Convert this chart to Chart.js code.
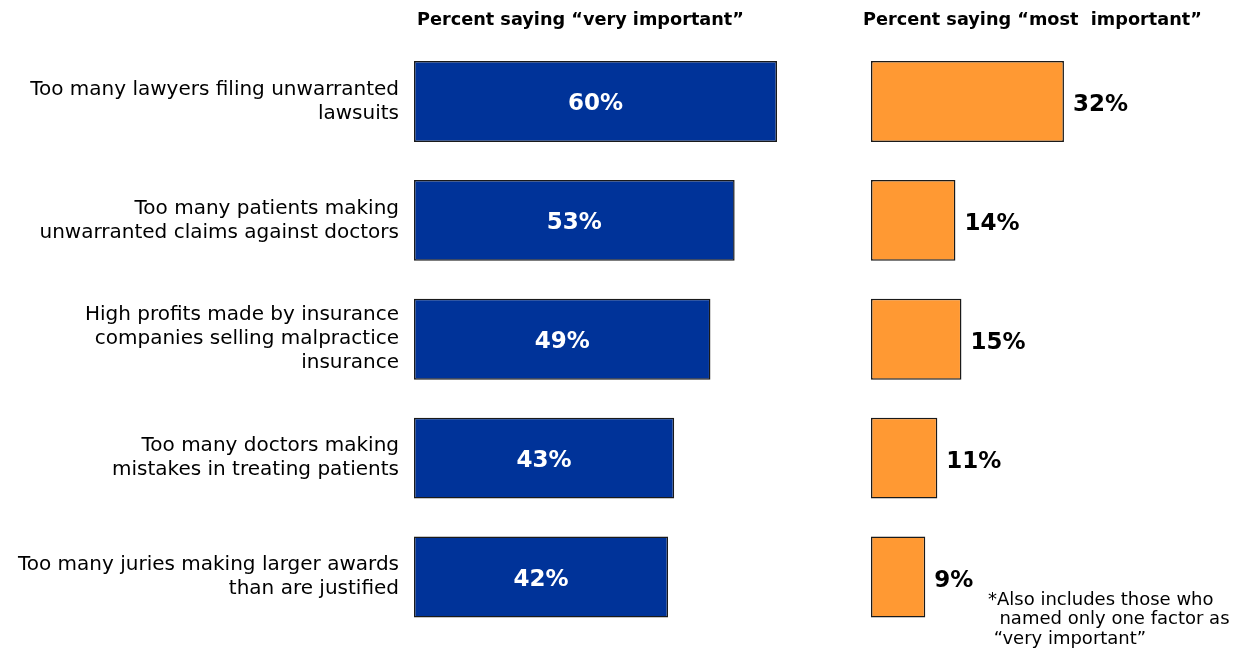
<!DOCTYPE html>
<html>
<head>
<meta charset="utf-8">
<script src="https://cdn.jsdelivr.net/npm/chart.js@4.4.1/dist/chart.umd.min.js"></script>
<style>
    body { margin: 0; background: #fff; }
    #wrap { position: relative; width: 1240px; height: 651px; }
    #veryBox { position: absolute; left: 0; top: 0; width: 840px; height: 651px; }
    #mostBox { position: absolute; left: 840px; top: 0; width: 400px; height: 651px; }
</style>
</head>
<body>
<div id="wrap">
    <div id="veryBox"><canvas id="veryChart"></canvas></div>
    <div id="mostBox"><canvas id="mostChart"></canvas></div>
</div>
<script>
const factors = [
    ["Too many lawyers filing unwarranted", "lawsuits"],
    ["Too many patients making", "unwarranted claims against doctors"],
    ["High profits made by insurance", "companies selling malpractice", "insurance"],
    ["Too many doctors making", "mistakes in treating patients"],
    ["Too many juries making larger awards", "than are justified"]
];
const veryImportant = [60, 53, 49, 43, 42];
const mostImportant = [32, 14, 15, 11, 9];

const veryTitle = "Percent saying \u201cvery important\u201d";
const mostTitle = "Percent saying \u201cmost  important\u201d";
const footnote = ["*Also includes those who", "  named only one factor as", " \u201cvery important\u201d"];

const FONT = "'DejaVu Sans', Verdana, sans-serif";
Chart.defaults.font.family = FONT;
Chart.defaults.color = '#000';

// header text above each panel, plus the bar value labels
function panelText(title, inside, extra) {
    return {
        id: 'panelText',
        afterDatasetsDraw(chart) {
            const ctx = chart.ctx;
            ctx.save();
            ctx.font = 'bold 17.7px ' + FONT;
            ctx.fillStyle = '#000';
            ctx.textAlign = 'left';
            ctx.textBaseline = 'middle';
            ctx.fillText(title.text, title.x, 20);

            ctx.font = 'bold 23px ' + FONT;
            chart.getDatasetMeta(0).data.forEach(function(bar, i) {
                const label = chart.data.datasets[0].data[i] + '%';
                if (inside) {
                    ctx.fillStyle = '#fff';
                    ctx.textAlign = 'center';
                    ctx.fillText(label, (bar.x + bar.base) / 2, bar.y + 3);
                } else {
                    ctx.fillStyle = '#000';
                    ctx.textAlign = 'left';
                    ctx.fillText(label, bar.x + 9, bar.y + 4);
                }
            });
            if (extra) extra(ctx);
            ctx.restore();
        }
    };
}

new Chart(document.getElementById('veryChart'), {
    type: 'bar',
    data: {
        labels: factors,
        datasets: [{
            data: veryImportant,
            backgroundColor: '#003399',
            borderColor: '#1a1a1a',
            borderWidth: 1.5,
            borderSkipped: false,
            barPercentage: 0.68,
            categoryPercentage: 1
        }]
    },
    options: {
        indexAxis: 'y',
        responsive: true,
        maintainAspectRatio: false,
        animation: false,
        layout: { padding: { top: 42, bottom: 14.5, left: 0, right: 2.5 } },
        plugins: { legend: { display: false }, tooltip: { enabled: false } },
        scales: {
            x: { min: 0, max: 70, display: false },
            y: {
                grid: { display: false, drawTicks: false },
                border: { display: false },
                ticks: { padding: 15, font: { size: 20, lineHeight: 1.2 }, color: '#000' },
                afterFit: function(scale) {
                    scale.width = 414;
                    scale.paddingTop = 0;
                    scale.paddingBottom = 0;
                }
            }
        }
    },
    plugins: [panelText({ text: veryTitle, x: 417 }, true)]
});

new Chart(document.getElementById('mostChart'), {
    type: 'bar',
    data: {
        labels: factors,
        datasets: [{
            data: mostImportant,
            backgroundColor: '#ff9933',
            borderColor: '#1a1a1a',
            borderWidth: 1.5,
            borderSkipped: false,
            barPercentage: 0.68,
            categoryPercentage: 1
        }]
    },
    options: {
        indexAxis: 'y',
        responsive: true,
        maintainAspectRatio: false,
        animation: false,
        layout: { padding: { top: 42, bottom: 14.5, left: 31, right: 7.2 } },
        plugins: { legend: { display: false }, tooltip: { enabled: false } },
        scales: {
            x: { min: 0, max: 60, display: false },
            y: { display: false }
        }
    },
    plugins: [panelText({ text: mostTitle, x: 23 }, false, function(ctx) {
        ctx.font = '18px ' + FONT;
        ctx.fillStyle = '#000';
        ctx.textAlign = 'left';
        footnote.forEach(function(line, i) {
            ctx.fillText(line, 148, 600 + i * 19.5);
        });
    })]
});
</script>
</body>
</html>
